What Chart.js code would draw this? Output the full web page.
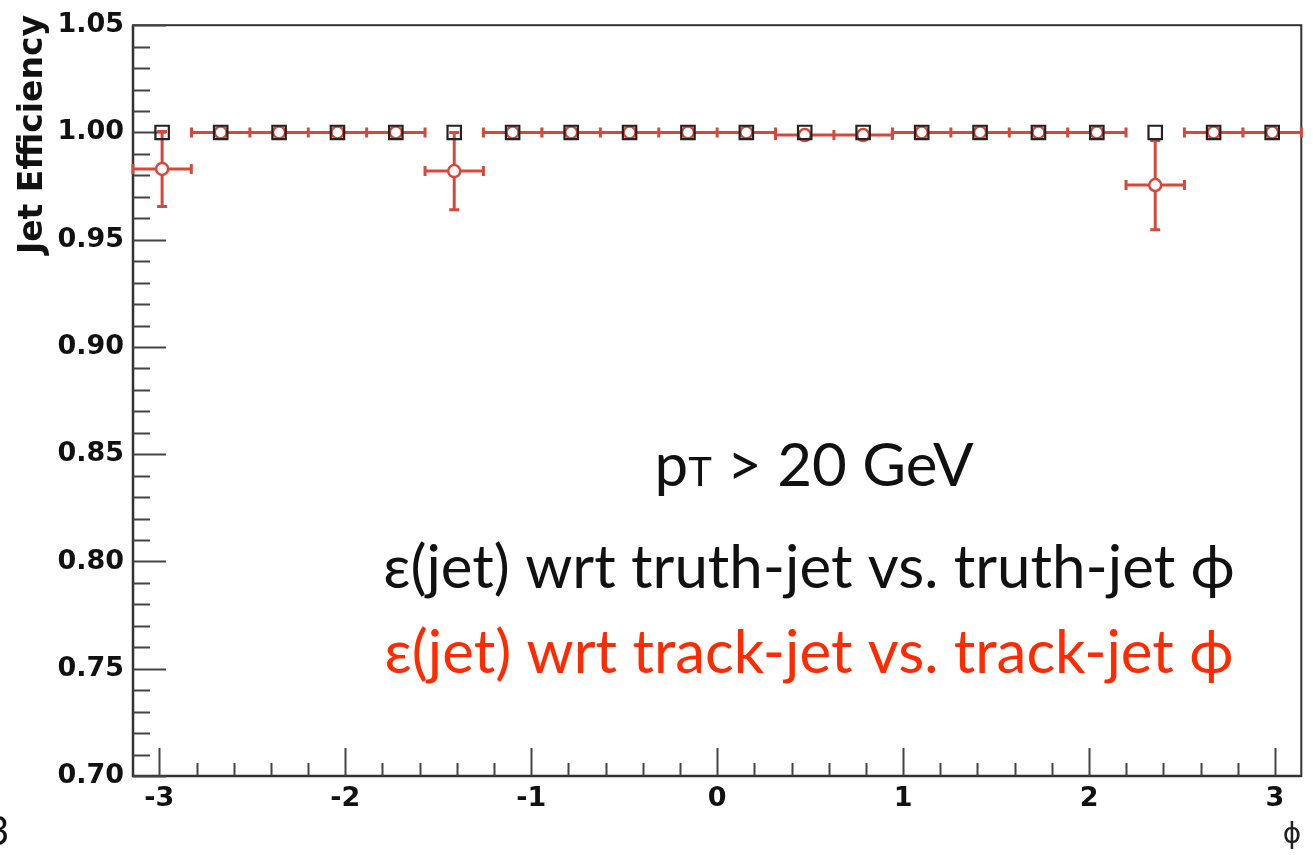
<!DOCTYPE html>
<html>
<head>
<meta charset="utf-8">
<script src="https://cdn.jsdelivr.net/npm/chart.js@4.4.1/dist/chart.umd.min.js"></script>
<style>
  html, body { margin: 0; padding: 0; background: #fff; }
  #wrap { width: 1313px; height: 855px; }
</style>
</head>
<body>
<div id="wrap"><canvas id="chart" width="1313" height="855"></canvas></div>
<script>
// phi bin centres (20 bins over -pi..pi) and half widths
const phiBins = [-2.985, -2.670, -2.356, -2.042, -1.728, -1.414, -1.100, -0.785, -0.471, -0.157,
                 0.157, 0.471, 0.785, 1.100, 1.414, 1.728, 2.042, 2.356, 2.670, 2.985]
const phiHalfWidth = [0.157, 0.157, 0.157, 0.157, 0.157, 0.157, 0.157, 0.157, 0.157, 0.157,
                      0.157, 0.157, 0.157, 0.157, 0.157, 0.157, 0.157, 0.157, 0.157, 0.157]

// eff wrt truth-jet (black squares)
const truthEff = [1.000, 1.000, 1.000, 1.000, 1.000, 1.000, 1.000, 1.000, 1.000, 1.000,
                  1.000, 1.000, 1.000, 1.000, 1.000, 1.000, 1.000, 1.000, 1.000, 1.000]

// eff wrt track-jet (red circles) + errors
const trackEff = [0.983, 1.000, 1.000, 1.000, 1.000, 0.982, 1.000, 1.000, 1.000, 1.000,
                  1.000, 0.9988, 0.9988, 1.000, 1.000, 1.000, 1.000, 0.9755, 1.000, 1.000]
const trackErr = [0.0175, 0.000, 0.000, 0.000, 0.000, 0.018, 0.000, 0.000, 0.000, 0.000,
                  0.000, 0.0008, 0.0008, 0.000, 0.000, 0.000, 0.000, 0.0208, 0.000, 0.000]

const xTickValues = [-3, -2, -1, 0, 1, 2, 3]
const yTickStep = 0.05

const yTitle = 'Jet Efficiency'
const ptLabel = ['p', 'T', ' > 20 GeV']
const truthLabel = 'ε(jet) wrt truth-jet vs. truth-jet ϕ'
const trackLabel = 'ε(jet) wrt track-jet vs. track-jet ϕ'

const RED = 'rgb(214,72,58)'
const TEXT_RED = '#ff2a00'

const rootFrame = {
    id: 'rootFrame',
    beforeDatasetsDraw: (chart) => {
        const ctx = chart.ctx
        const {left, right, top, bottom} = chart.chartArea
        const xs = chart.scales.x, ys = chart.scales.y
        ctx.save()
        ctx.strokeStyle = '#333'
        ctx.lineWidth = 2
        ctx.strokeRect(left, top, right - left, bottom - top)
        ctx.lineWidth = 2.5
        ctx.beginPath()
        ctx.moveTo(left, top); ctx.lineTo(left, bottom); ctx.lineTo(right, bottom)
        ctx.stroke()

        // inward ticks, ROOT style
        ctx.lineWidth = 2
        ctx.strokeStyle = '#444'
        ctx.beginPath()
        for (let k = 0; k <= 35; k++) {
            const v = 0.70 + k * 0.01
            const py = Math.round(ys.getPixelForValue(v)) + 0.5
            const len = (k % 5 === 0) ? 33 : 17
            ctx.moveTo(left, py); ctx.lineTo(left + len, py)
        }
        for (let k = -15; k <= 15; k++) {
            const v = k * 0.2
            const px = Math.round(xs.getPixelForValue(v)) + 0.5
            const len = (k % 5 === 0) ? 28 : 13
            ctx.moveTo(px, bottom); ctx.lineTo(px, bottom - len)
        }
        ctx.stroke()

        // red error bars for track-jet series
        ctx.strokeStyle = RED
        ctx.lineWidth = 3
        ctx.beginPath()
        phiBins.forEach((x, i) => {
            const py = ys.getPixelForValue(trackEff[i])
            const x0 = xs.getPixelForValue(x - phiHalfWidth[i])
            const x1 = xs.getPixelForValue(x + phiHalfWidth[i])
            ctx.moveTo(x0, py); ctx.lineTo(x1, py)
            ctx.moveTo(x0, py - 5); ctx.lineTo(x0, py + 5)
            ctx.moveTo(x1, py - 5); ctx.lineTo(x1, py + 5)
            if (trackErr[i] > 0.002) {
                const px = xs.getPixelForValue(x)
                const y0 = ys.getPixelForValue(trackEff[i] - trackErr[i])
                const y1 = ys.getPixelForValue(trackEff[i] + trackErr[i])
                ctx.moveTo(px, y0); ctx.lineTo(px, y1)
                ctx.moveTo(px - 5, y0); ctx.lineTo(px + 5, y0)
                ctx.moveTo(px - 5, y1); ctx.lineTo(px + 5, y1)
            }
        })
        ctx.stroke()
        ctx.restore()
    },
    afterDraw: (chart) => {
        const ctx = chart.ctx
        ctx.save()

        // y axis title, right-aligned to the top like ROOT
        ctx.save()
        ctx.translate(33, 15)
        ctx.rotate(-Math.PI / 2)
        ctx.textAlign = 'right'
        ctx.textBaseline = 'middle'
        ctx.fillStyle = '#111'
        ctx.font = 'bold 33px "DejaVu Sans"'
        ctx.fillText(yTitle, 0, 0)
        ctx.restore()

        ctx.textBaseline = 'alphabetic'
        ctx.textAlign = 'left'
        const big = '60px Lato'
        const small = '40px Lato'
        // pT > 20 GeV
        ctx.fillStyle = '#111'
        ctx.font = big
        const wp = ctx.measureText(ptLabel[0]).width
        ctx.font = small
        const wt = ctx.measureText(ptLabel[1]).width
        ctx.font = big
        const wr = ctx.measureText(ptLabel[2]).width
        let x = 814 - (wp + wt + wr) / 2
        ctx.fillText(ptLabel[0], x, 486)
        ctx.font = small
        ctx.fillText(ptLabel[1], x + wp, 486)
        ctx.font = big
        ctx.fillText(ptLabel[2], x + wp + wt, 486)

        ctx.textAlign = 'center'
        ctx.fillText(truthLabel, 809, 588)
        ctx.fillStyle = TEXT_RED
        ctx.fillText(trackLabel, 809, 673)

        // stray slide glyph in bottom-left corner
        ctx.fillStyle = '#111'
        ctx.textAlign = 'left'
        ctx.font = '40px Lato'
        ctx.fillText('3', -14, 845)
        ctx.restore()
    }
}

const ctx = document.getElementById('chart').getContext('2d')
const myChart = new Chart(ctx, {
    type: 'scatter',
    data: {
        datasets: [
            {
                label: 'truth-jet',
                data: phiBins.map((x, i) => ({x: x, y: truthEff[i]})),
                pointStyle: 'rect',
                pointRadius: 9.5,
                borderColor: '#222',
                borderWidth: 2.2,
                backgroundColor: 'rgba(0,0,0,0)'
            },
            {
                label: 'track-jet',
                data: phiBins.map((x, i) => ({x: x, y: trackEff[i]})),
                pointStyle: 'circle',
                pointRadius: 6,
                borderColor: RED,
                borderWidth: 2.5,
                backgroundColor: '#fff'
            }
        ]
    },
    options: {
        responsive: false,
        animation: false,
        events: [],
        layout: { padding: { top: 22, right: 9, left: 0, bottom: 0 } },
        plugins: { legend: { display: false }, tooltip: { enabled: false } },
        scales: {
            x: {
                type: 'linear',
                min: -Math.PI,
                max: Math.PI,
                afterBuildTicks: (s) => { s.ticks = xTickValues.map(v => ({value: v})) },
                afterFit: (s) => { s.height = 79 },
                grid: { display: false, drawTicks: false },
                border: { display: false },
                ticks: {
                    autoSkip: false, maxRotation: 0, padding: 7, color: '#111',
                    font: { family: 'DejaVu Sans', weight: 'bold', size: 27 },
                    callback: (v) => String(v)
                },
                title: {
                    display: true, text: 'ϕ', align: 'end', color: '#222',
                    font: { family: 'DejaVu Sans', size: 28 },
                    padding: { top: 0, bottom: 2 }
                }
            },
            y: {
                min: 0.70,
                max: 1.05,
                afterFit: (s) => { s.width = 133 },
                grid: { display: false, drawTicks: false },
                border: { display: false },
                ticks: {
                    stepSize: yTickStep, padding: 9, color: '#111',
                    font: { family: 'DejaVu Sans', weight: 'bold', size: 27 },
                    callback: (v) => v.toFixed(2)
                },
                title: { display: false }
            }
        }
    },
    plugins: [rootFrame]
})
</script>
</body>
</html>
